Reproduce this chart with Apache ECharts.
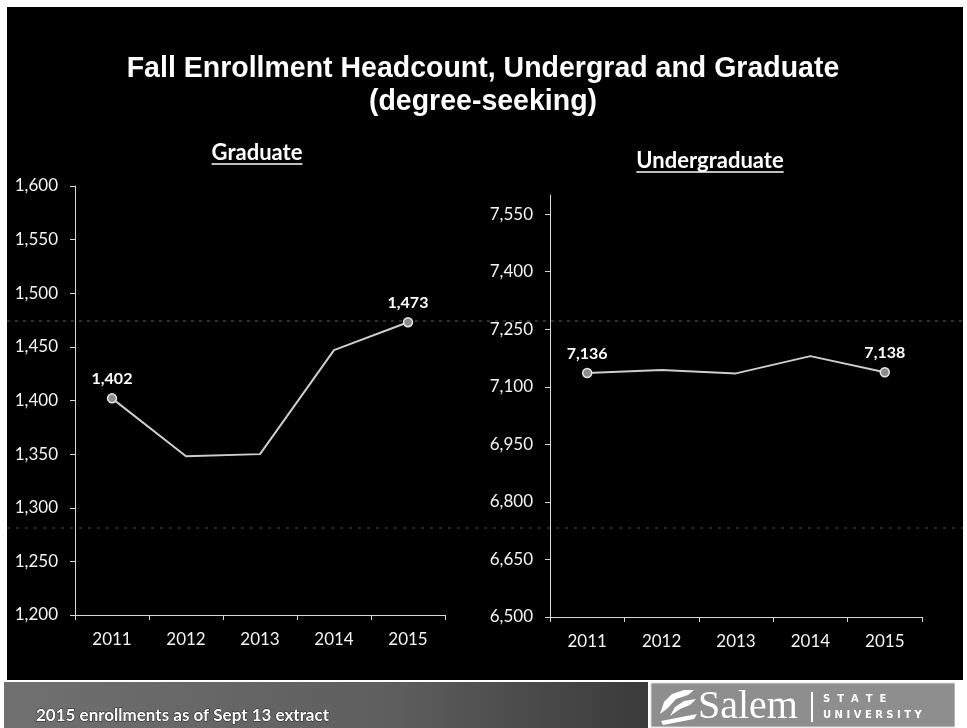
<!DOCTYPE html>
<html>
<head>
<meta charset="utf-8">
<style>
  html, body { margin: 0; padding: 0; background: #fff; }
  #chart { width: 967px; height: 728px; }
</style>
<script src="https://cdn.jsdelivr.net/npm/echarts@6/dist/echarts.min.js"></script>
</head>
<body>
<div id="chart"></div>
<script>
// Fall headcount, degree-seeking students
const years = ['2011', '2012', '2013', '2014', '2015'];
const graduateValues = [1402, 1348, 1350, 1447, 1473];
const undergraduateValues = [7136, 7144, 7135, 7180, 7138];
const undergraduateTicks = [6500, 6650, 6800, 6950, 7100, 7250, 7400, 7550];

const titleLines = ['Fall Enrollment Headcount, Undergrad and Graduate', '(degree-seeking)'];
const panelTitles = ['Graduate', 'Undergraduate'];
const footNote = '2015 enrollments as of Sept 13 extract';

const labelFont = 'Lato, "Open Sans", sans-serif';
const fmt = v => v.toLocaleString('en-US');

// only the first and last year carry a marker and a value label
function endpointData(values) {
  const last = values.length - 1;
  return values.map((v, i) => {
    const end = i === 0 || i === last;
    return {
      value: v,
      symbol: end ? 'circle' : 'none',
      label: { show: end }
    };
  });
}

function textWidth(text, font) {
  const ctx = document.createElement('canvas').getContext('2d');
  ctx.font = font;
  return ctx.measureText(text).width;
}

function panelHeading(text, cx, cy) {
  const font = 'bold 22px Lato';
  const w = textWidth(text, font);
  return [
    { type: 'text', x: cx, y: cy,
      style: { text, fill: '#fff', font, align: 'center', verticalAlign: 'middle' } },
    { type: 'line', shape: { x1: cx - w / 2, y1: cy + 11, x2: cx + w / 2, y2: cy + 11 },
      style: { stroke: '#fff', lineWidth: 1.5 } }
  ];
}

const axisColor = '#d8d8d8';

function xAxisCfg(gridIndex) {
  return {
    type: 'category', gridIndex, data: years, boundaryGap: true,
    axisLine: { lineStyle: { color: axisColor, width: 1 } },
    axisTick: { show: true, length: 5, lineStyle: { color: axisColor } },
    axisLabel: { color: '#f4f4f4', fontFamily: labelFont, fontSize: 17, margin: 16 },
    splitLine: { show: false }
  };
}

function lineSeries(values, xi, yi) {
  return {
    type: 'line', xAxisIndex: xi, yAxisIndex: yi,
    data: endpointData(values),
    symbolSize: 9,
    lineStyle: { color: '#cdcdcd', width: 2 },
    itemStyle: { color: '#8c8c8c', borderColor: '#e6e6e6', borderWidth: 1.5 },
    label: {
      position: 'top', distance: 6, color: '#fff',
      fontFamily: labelFont, fontWeight: 'bold', fontSize: 16,
      formatter: p => fmt(p.value)
    },
    emphasis: { disabled: true },
    animation: false
  };
}

const chart = echarts.init(document.getElementById('chart'), null, { renderer: 'canvas' });

chart.setOption({
  backgroundColor: '#000',
  animation: false,
  grid: [
    { left: 75, top: 186, width: 370, height: 429 },
    { left: 550, top: 195, width: 372, height: 422 }
  ],
  xAxis: [xAxisCfg(0), xAxisCfg(1)],
  yAxis: [
    {
      type: 'value', gridIndex: 0, min: 1200, max: 1600, interval: 50,
      axisLine: { show: true, lineStyle: { color: axisColor, width: 1 } },
      axisTick: { show: true, length: 5, lineStyle: { color: axisColor } },
      axisLabel: { color: '#f4f4f4', fontFamily: labelFont, fontSize: 17, margin: 17, formatter: fmt },
      splitLine: { show: false }
    },
    {
      type: 'value', gridIndex: 1, min: 6500, max: 7600, interval: 150,
      axisLine: { show: true, lineStyle: { color: axisColor, width: 1 } },
      axisTick: { show: true, length: 5, lineStyle: { color: axisColor }, customValues: undergraduateTicks },
      axisLabel: { color: '#f4f4f4', fontFamily: labelFont, fontSize: 17, margin: 17, formatter: fmt,
                   customValues: undergraduateTicks },
      splitLine: { show: false }
    }
  ],
  series: [
    lineSeries(graduateValues, 0, 0),
    lineSeries(undergraduateValues, 1, 1)
  ],
  graphic: [
    // slide frame
    { type: 'rect', shape: { x: 0, y: 0, width: 967, height: 7 }, style: { fill: '#fff' } },
    { type: 'rect', shape: { x: 0, y: 0, width: 7, height: 682 }, style: { fill: '#fff' } },
    { type: 'rect', shape: { x: 963, y: 0, width: 4, height: 682 }, style: { fill: '#fff' } },
    // faint guide lines across the slide
    { type: 'line', shape: { x1: 7, y1: 321, x2: 963, y2: 321 },
      style: { stroke: '#5a5a5a', lineWidth: 1, lineDash: [3, 5] } },
    { type: 'line', shape: { x1: 7, y1: 528, x2: 963, y2: 528 },
      style: { stroke: '#4a4a4a', lineWidth: 1, lineDash: [3, 6] } },
    // main heading
    { type: 'text', x: 483, y: 69, scaleY: 1.06,
      style: { text: titleLines[0], fill: '#fff', font: 'bold 28.5px "Liberation Sans", Arial, sans-serif',
               align: 'center', verticalAlign: 'middle' } },
    { type: 'text', x: 483, y: 102, scaleY: 1.06,
      style: { text: titleLines[1], fill: '#fff', font: 'bold 28.5px "Liberation Sans", Arial, sans-serif',
               align: 'center', verticalAlign: 'middle' } },
    ...panelHeading(panelTitles[0], 257, 153),
    ...panelHeading(panelTitles[1], 710, 161),
    // footer band
    { type: 'rect', shape: { x: 0, y: 680, width: 967, height: 48 }, style: { fill: '#fff' } },
    { type: 'rect', shape: { x: 4, y: 682, width: 644, height: 46 },
      style: { fill: new echarts.graphic.LinearGradient(0, 0, 1, 0, [
        { offset: 0, color: '#707070' }, { offset: 0.6, color: '#5e5e5e' }, { offset: 1, color: '#3a3a3a' }
      ]) } },
    { type: 'rect', shape: { x: 651, y: 683, width: 304, height: 44 },
      style: { fill: '#8e8e8e', stroke: '#dcdcdc', lineWidth: 1 } },
    { type: 'rect', shape: { x: 955, y: 682, width: 12, height: 46 }, style: { fill: '#fff' } },
    { type: 'text', x: 36, y: 716,
      style: { text: footNote, fill: '#fff', font: 'bold 17px Lato', align: 'left', verticalAlign: 'middle',
               stroke: '#222', lineWidth: 1 } },
    // university wordmark: ship sails and hull
    { type: 'polygon', shape: { points: [[660, 714], [664, 702], [672, 694], [684, 690], [694, 690], [688, 695], [676, 699], [668, 708]] },
      style: { fill: '#fff' } },
    { type: 'polygon', shape: { points: [[670, 716], [675, 707], [684, 701], [696, 699], [690, 705], [680, 709]] },
      style: { fill: '#fff' } },
    { type: 'polygon', shape: { points: [[661, 721], [697, 714], [694, 719], [663, 725]] },
      style: { fill: '#fff' } },
    { type: 'text', x: 698, y: 707,
      style: { text: 'Salem', fill: '#fff', font: '40px "Liberation Serif", "DejaVu Serif", serif',
               align: 'left', verticalAlign: 'middle' } },
    { type: 'line', shape: { x1: 812, y1: 692, x2: 812, y2: 722 }, style: { stroke: '#fff', lineWidth: 2 } },
    { type: 'text', x: 823, y: 699,
      style: { text: 'S  T  A  T  E', fill: '#fff', font: 'bold 10px "DejaVu Sans", sans-serif',
               align: 'left', verticalAlign: 'middle' } },
    { type: 'text', x: 823, y: 715,
      style: { text: 'U N I V E R S I T Y', fill: '#fff', font: 'bold 10px "DejaVu Sans", sans-serif',
               align: 'left', verticalAlign: 'middle' } }
  ]
});
</script>
</body>
</html>
